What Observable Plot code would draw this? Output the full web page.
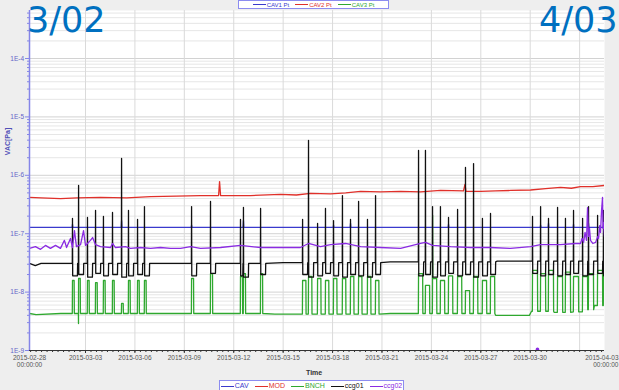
<!DOCTYPE html>
<html><head><meta charset="utf-8">
<script src="https://cdn.jsdelivr.net/npm/d3@7"></script>
<script src="https://cdn.jsdelivr.net/npm/@observablehq/plot@0.6"></script>
<style>
html,body{margin:0;padding:0;background:#eeeeee;}
#wrap{position:relative;width:619px;height:390px;overflow:hidden;background:#eeeeee;font-family:"Liberation Sans",Arial,sans-serif;}
#chart{position:absolute;left:0;top:0;}
.big{position:absolute;top:0px;font-family:"DejaVu Sans",sans-serif;font-size:35px;line-height:1.17;color:#0070c0;white-space:nowrap;z-index:3;}
.legend{position:absolute;background:#fff;border:1px solid #8c8cf0;display:flex;align-items:center;justify-content:center;gap:6px;font-size:7px;line-height:8px;white-space:nowrap;z-index:2;box-sizing:border-box;}
.legend span{display:inline-flex;align-items:center;}
.legend i{display:inline-block;width:13px;height:0;border-top:1.5px solid;margin-right:1px;}
.lab{position:absolute;font-size:7px;font-weight:bold;white-space:nowrap;z-index:2;}
</style></head>
<body><div id="wrap"><div id="chart"></div>
<div class="big" style="left:27px">3/02</div>
<div class="big" style="left:539px">4/03</div>
<div id="topLegend" class="legend" style="left:238px;top:0px;width:151px;height:9px;font-size:6px;"></div>
<div id="botLegend" class="legend" style="left:219px;top:380px;width:185px;height:12px;"></div>
<div class="lab" id="xlab" style="left:306px;top:369px;color:#333">Time</div>
<div class="lab" id="ylab" style="left:-6px;top:138px;color:#5050b8;transform:rotate(-90deg);">VAC[Pa]</div>
</div>
<script>
// time t = days since 2015-03-01 00:00 UTC
const DAY = 864e5, ORIGIN = Date.UTC(2015, 2, 1);
const toDate = t => new Date(ORIGIN + t * DAY);

// ---- series names / colours ----
const seriesNames = ["CAV", "MOD", "BNCH", "ccg01", "ccg02"];
const seriesColors = ["#3a3acc", "#e0302a", "#2fa82f", "#111111", "#8a2be2"];
const topLegendNames = ["CAV1 Pt", "CAV2 Pt", "CAV3 Pt"];
const topLegendColors = ["#3a3acc", "#e0302a", "#2fa82f"];

// ---- axis ticks ----
const xStartDay = -1.40, xEndDay = 33.51;
const xLabelDays = [2, 5, 8, 11, 14, 17, 20, 23, 26, 29];
const xGridDays = [2, 5, 8, 11, 14, 17, 20, 23, 26, 29, 32];
const edgeLabels = ["2015-02-28\n00:00:00", "2015-04-03\n00:00:00"];
const yTickValues = [1e-9, 1e-8, 1e-7, 1e-6, 1e-5, 1e-4];
const yTickLabels = ["1E-9", "1E-8", "1E-7", "1E-6", "1E-5", "1E-4"];
const yTop = 6.64e-4;

// ---- MOD (red) ----
const mod = [[-1.40,4.2e-7],[-0.7,4.1e-7],[0.48,4.0e-7],[1.5,4.1e-7],[2.91,4.2e-7],[4.5,4.1e-7],[5.95,4.3e-7],[7.5,4.4e-7],[8.98,4.5e-7],[10.08,4.5e-7],[10.14,7.8e-7],[10.20,4.5e-7],[12.02,4.5e-7],[13.84,4.7e-7],[14.8,4.6e-7],[15.66,4.9e-7],[16.88,4.8e-7],[17.8,5.0e-7],[18.70,5.3e-7],[19.91,5.2e-7],[21.13,5.3e-7],[22.34,5.2e-7],[23.55,5.5e-7],[24.95,5.4e-7],[25.04,7.0e-7],[25.10,5.3e-7],[25.98,5.3e-7],[26.9,5.4e-7],[27.80,5.5e-7],[29.02,5.6e-7],[29.93,5.9e-7],[30.84,6.2e-7],[31.5,6.0e-7],[32.05,6.4e-7],[32.8,6.4e-7],[33.51,6.7e-7]];

// ---- CAV (blue) ----
const cavLevel = 1.28e-7;
const cavBlips = [[1.21,1.45e-7],[4.19,1.68e-7],[8.44,1.4e-7],[11.59,1.68e-7],[17.06,1.4e-7],[18.09,1.5e-7],[24.04,1.45e-7],[29.63,1.4e-7],[30.11,1.5e-7],[31.63,1.45e-7],[32.54,1.5e-7],[33.45,1.4e-7]];

// ---- ccg02 (purple) ----
const ccg02 = [[-1.40,5.6e-8],[-1.04,6.0e-8],[-0.73,5.4e-8],[-0.43,6.3e-8],[-0.13,5.6e-8],[0.18,6.3e-8],[0.48,5.6e-8],[0.72,7.7e-8],[0.85,5.8e-8],[1.09,8.3e-8],[1.21,5.8e-8],[1.33,1.13e-7],[1.45,6.0e-8],[1.70,6.5e-8],[1.88,1.13e-7],[2.00,6.3e-8],[2.30,7.7e-8],[2.43,8.6e-8],[2.61,6.5e-8],[2.91,6.0e-8],[3.52,5.8e-8],[3.64,6.8e-8],[3.82,5.8e-8],[4.43,6.0e-8],[4.73,5.6e-8],[5.34,5.8e-8],[5.95,5.6e-8],[6.55,5.8e-8],[7.16,5.6e-8],[7.77,5.6e-8],[8.38,6.0e-8],[8.98,5.6e-8],[10.20,5.8e-8],[11.41,6.3e-8],[12.63,5.8e-8],[13.84,5.8e-8],[15.05,5.8e-8],[15.54,6.8e-8],[16.27,6.0e-8],[16.88,6.5e-8],[17.79,6.8e-8],[18.70,6.0e-8],[19.91,5.8e-8],[21.13,5.6e-8],[22.34,6.8e-8],[22.64,7.1e-8],[23.07,6.3e-8],[24.16,6.0e-8],[25.38,5.8e-8],[26.59,5.8e-8],[27.80,5.6e-8],[29.02,6.0e-8],[29.63,6.5e-8],[30.84,6.5e-8],[31.75,6.8e-8],[32.05,6.8e-8],[32.15,8.3e-8],[32.24,7.1e-8],[32.33,1.05e-7],[32.42,7.7e-8],[32.48,2.8e-7],[32.54,9.0e-8],[32.60,1.23e-7],[32.66,7.7e-8],[32.80,6.8e-8],[32.97,7.1e-8],[33.10,9.0e-8],[33.15,8.3e-8],[33.22,1.38e-7],[33.27,1.05e-7],[33.33,2.5e-7],[33.39,4.2e-7],[33.42,1.23e-7],[33.45,1.56e-7],[33.51,9.0e-8]];
const ccg02Outlier = [[29.44, 1.05e-9]];

// ---- events seen in ccg01 / BNCH ----
const eventDay = [1.21,1.58,2.12,2.61,3.09,3.64,4.19,4.61,5.16,5.58, 8.44,9.59,11.41,11.59,12.63, 15.18,15.54,16.09,16.57,17.06,17.60,18.09,18.58,19.12,19.61, 22.22,22.64,23.07,23.55,24.04,24.59,25.07,25.56,26.10,26.59, 29.14,29.63,30.11,30.66,31.14,31.63,32.18,32.54,33.09,33.45];
const ccg01Peak = [1.82e-7,6.7e-7,1.9e-7,2.5e-7,1.97e-7,2.31e-7,1.94e-6,2.5e-7,1.75e-7,2.92e-7, 2.92e-7,3.56e-7,1.75e-7,2.81e-7,2.70e-7, 1.75e-7,3.95e-6,1.5e-7,2.7e-7,1.68e-7,4.5e-7,1.75e-7,3.56e-7,1.75e-7,4.5e-7, 2.66e-6,2.66e-6,2.92e-7,2.92e-7,1.9e-7,2.6e-7,1.36e-6,1.59e-6,1.82e-7,2.22e-7, 1.97e-7,2.92e-7,1.82e-7,2.81e-7,1.82e-7,2.5e-7,1.82e-7,2.92e-7,2.05e-7,2.5e-7];
const ccg01Low = [1.9e-8,2.0e-8,1.8e-8,2.1e-8,1.9e-8,2.0e-8,1.8e-8,1.9e-8,2.0e-8,1.9e-8, 1.9e-8,2.1e-8,1.9e-8,1.8e-8,2.0e-8, 2.0e-8,1.8e-8,1.9e-8,2.1e-8,1.9e-8,1.8e-8,2.0e-8,1.9e-8,1.8e-8,2.0e-8, 1.9e-8,2.0e-8,1.8e-8,1.9e-8,2.1e-8,1.9e-8,2.0e-8,1.8e-8,1.9e-8,2.0e-8, 2.1e-8,1.9e-8,2.0e-8,1.9e-8,2.0e-8,2.1e-8,1.9e-8,2.0e-8,2.1e-8,1.9e-8];
const ccg01LowDays = 0.3;
const ccg01Base = [[-1.40,3.1e-8],[-1.05,2.85e-8],[-0.70,3.1e-8],[14.0,3.2e-8],[20.5,3.3e-8],[27.0,3.4e-8]];

const bnchTop = [1.58e-8,1.71e-8,1.58e-8,1.45e-8,1.58e-8,1.58e-8,6.4e-9,1.58e-8,1.58e-8,1.58e-8, 1.71e-8,2.08e-8,1.85e-8,2.08e-8,2.08e-8, 1.58e-8,1.85e-8,1.71e-8,1.58e-8,1.71e-8,1.71e-8,1.85e-8,1.85e-8,1.85e-8,1.58e-8, 2.08e-8,1.3e-8,1.71e-8,1.58e-8,1.9e-8,1.85e-8,1.06e-8,1.85e-8,1.58e-8,1.85e-8, 2.35e-8,2.08e-8,2.35e-8,1.85e-8,2.2e-8,1.85e-8,1.85e-8,2.08e-8,2.35e-8,2.35e-8];
const bnchPulseDays = [0.1,0.1,0.1,0.1,0.1,0.1,0.1,0.1,0.1,0.1, 0.12,0.12,0.12,0.12,0.12, 0.2,0.2,0.2,0.2,0.2,0.2,0.2,0.2,0.2,0.2, 0.25,0.25,0.25,0.25,0.25,0.25,0.25,0.25,0.25,0.25, 0.3,0.3,0.3,0.3,0.3,0.3,0.3,0.3,0.3,0.3];
const bnchBase = [[-1.40,4.3e-9],[-1.00,4.1e-9],[0.5,4.3e-9],[13.5,4.2e-9],[20.5,4.3e-9],[26.9,4.0e-9],[28.95,4.0e-9],[29.08,4.7e-9],[30.45,4.5e-9],[31.45,4.6e-9],[32.45,5.0e-9],[32.9,5.9e-9]];
const bnchSpikes = [[1.575,2.9e-9],[23.075,2.05e-7]];

// ---- build line vertices from the tables above ----
const stepAt = (base, t) => { let v = base[0][1]; for (const [bt, bv] of base) if (bt <= t) v = bv; return v; };
function buildEvents(base, tops, lows, lens, endValue) {
  const pts = [], spans = [];
  eventDay.forEach((t0, i) => {
    const next = i + 1 < eventDay.length ? eventDay[i + 1] : Infinity;
    const len = Math.min(lens[i], next - t0 - 0.04);
    spans.push([t0 - 0.03, t0 + len + 0.03]);
    pts.push([t0 - 0.012, stepAt(base, t0)], [t0, tops[i]]);
    const low = lows ? lows[i] : tops[i];
    pts.push([t0 + 0.012, low], [t0 + len, low], [t0 + len + 0.012, stepAt(base, t0 + len)]);
  });
  base.forEach(p => { if (!spans.some(([a, b]) => p[0] >= a && p[0] <= b)) pts.push(p); });
  pts.push([xEndDay + 0.3, endValue]);
  return pts.sort((a, b) => a[0] - b[0]);
}
const ccg01 = buildEvents(ccg01Base, ccg01Peak, ccg01Low, ccg01Peak.map(() => ccg01LowDays), 3.4e-8);
const bnch = buildEvents(bnchBase, bnchTop, null, bnchPulseDays, 5.9e-9).concat(bnchSpikes).sort((a, b) => a[0] - b[0]);
const cav = [[xStartDay, cavLevel]];
cavBlips.forEach(([t, v]) => cav.push([t - 0.02, cavLevel], [t, v], [t + 0.02, cavLevel]));
cav.push([xEndDay, cavLevel]);

const series = [cav, mod, bnch, ccg01, ccg02];

// ---- grid values ----
const yMinor = [];
for (let e = -9; e <= -4; e++) for (let m = 2; m <= 9; m++) { const v = m * 10 ** e; if (v < yTop) yMinor.push(v); }
const xMinorTicks = d3.utcHour.every(8).range(toDate(xStartDay), toDate(xEndDay));
const yLabelMap = new Map(yTickValues.map((v, i) => [Math.round(Math.log10(v)), yTickLabels[i]]));

const axisPurple = "#8585e8";
const chart = Plot.plot({
  width: 619, height: 390,
  marginLeft: 29, marginRight: 15, marginTop: 10, marginBottom: 40,
  style: {background: "transparent", fontFamily: "Liberation Sans, Arial, sans-serif"},
  x: {type: "utc", domain: [toDate(xStartDay), toDate(xEndDay)]},
  y: {type: "log", domain: [1e-9, yTop]},
  marks: [
    Plot.frame({fill: "white", stroke: null}),
    Plot.ruleY(yMinor, {stroke: "#e6e6e6", strokeWidth: 1}),
    Plot.ruleY(yTickValues, {stroke: "#d2d2d2", strokeWidth: 1}),
    Plot.ruleX(xGridDays.map(toDate), {stroke: "#dadada", strokeWidth: 1}),
    ...series.map((s, i) => Plot.line(s, {x: d => toDate(d[0]), y: d => d[1], stroke: seriesColors[i], strokeWidth: 1.3, clip: true})),
    Plot.dot(ccg02Outlier, {x: d => toDate(d[0]), y: d => d[1], r: 1.8, fill: seriesColors[4], clip: true}),
    Plot.ruleY([1e-9], {stroke: "#333", strokeWidth: 1}),
    Plot.ruleX([toDate(xStartDay)], {stroke: axisPurple, strokeWidth: 1.5}),
    Plot.axisY({ticks: yTickValues, tickFormat: d => yLabelMap.get(Math.round(Math.log10(d))), tickSize: 4, tickPadding: 1.5, fontSize: 6.5, fill: "#6464c8", stroke: axisPurple, label: null}),
    Plot.axisY({ticks: yMinor, tickFormat: () => "", tickSize: 2, stroke: axisPurple, label: null}),
    Plot.axisX({ticks: xLabelDays.map(toDate), tickFormat: d3.utcFormat("%Y-%m-%d"), tickSize: 3, tickPadding: 2, fontSize: 6.5, fill: "#555", stroke: "#333", label: null}),
    Plot.axisX({ticks: xMinorTicks, tickFormat: () => "", tickSize: 2, stroke: "#333", label: null}),
    Plot.text([edgeLabels[0]], {x: () => toDate(xStartDay), y: () => 1e-9, text: d => d, lineAnchor: "top", dy: 5, fontSize: 6.5, fill: "#555", lineHeight: 1.05}),
    Plot.text([edgeLabels[1]], {x: () => toDate(xEndDay), y: () => 1e-9, text: d => d, textAnchor: "end", dx: 14, lineAnchor: "top", dy: 5, fontSize: 6.5, fill: "#555", lineHeight: 1.05})
  ]
});
document.getElementById("chart").appendChild(chart);

function fillLegend(el, names, colors) {
  names.forEach((n, i) => {
    const s = document.createElement("span");
    s.style.color = colors[i];
    const line = document.createElement("i");
    line.style.borderColor = colors[i];
    s.appendChild(line);
    s.appendChild(document.createTextNode(n));
    el.appendChild(s);
  });
}
fillLegend(document.getElementById("topLegend"), topLegendNames, topLegendColors);
fillLegend(document.getElementById("botLegend"), seriesNames, seriesColors);
</script>
</body></html>
